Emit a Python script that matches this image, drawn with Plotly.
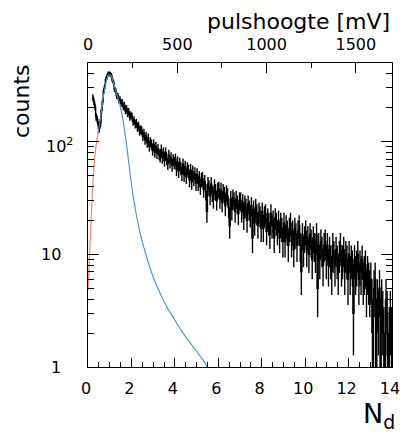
import numpy as np
import plotly.graph_objects as go

# ---------------- data ----------------
bin_width = 0.05          # N_d per histogram bin
first_bin_edge = 0.20     # first filled bin starts here

counts = [
    # 0.20 - 0.95
    248, 226, 204, 166, 158, 141, 132, 147, 190, 226, 281, 309, 356, 377, 398, 402,
    # 1.00 - 1.95
    396, 388, 352, 336, 293, 284, 255, 256, 233, 238, 219, 224, 204, 211, 189, 197, 178, 185, 166, 172,
    # 2.00 - 2.95
    168, 151, 155, 143, 147, 134, 139, 124, 128, 126, 112, 119, 104, 112, 98, 108, 91, 99, 95, 84,
    # 3.00 - 3.95
    95, 81, 90, 79, 86, 77, 74, 85, 72, 80, 68, 80, 70, 64, 76, 66, 72, 62, 69, 65,
    # 4.00 - 4.95
    70, 57, 66, 55, 64, 58, 52, 63, 51, 60, 49, 58, 55, 46, 56, 44, 54, 47, 52, 43,
    # 5.00 - 5.95
    51, 43, 48, 40, 46, 47, 38, 44, 36, 24, 42, 39, 33, 42, 35, 31, 40, 36, 30, 37,
    # 6.00 - 6.95
    38, 31, 37, 29, 36, 34, 27, 35, 33, 26, 18, 31, 25, 32, 30, 24, 31, 28, 23, 30,
    # 7.00 - 7.95
    30, 24, 29, 21, 28, 26, 20, 28, 25, 22, 27, 14, 25, 19, 26, 23, 18, 24, 22, 17,
    # 8.00 - 8.95
    24, 17, 22, 23, 16, 21, 19, 15, 23, 18, 20, 14, 21, 19, 16, 20, 14, 19, 17, 13,
    # 9.00 - 9.95
    19, 13, 18, 16, 12, 17, 19, 13, 16, 11, 17, 15, 12, 16, 18, 12, 7, 15, 11, 14,
    # 10.00 - 10.95
    16, 11, 14, 10, 15, 13, 9, 14, 12, 10, 15, 5, 12, 9, 13, 11, 8, 12, 13, 9,
    # 11.00 - 11.95
    12, 8, 11, 9, 7, 12, 10, 8, 11, 9, 7, 10, 12, 8, 9, 11, 7, 10, 9, 6,
    # 12.00 - 12.95
    10, 7, 9, 8, 3, 9, 7, 8, 10, 6, 8, 7, 9, 6, 7, 8, 5, 7, 6, 5,
    # 13.00 - 13.95
    6, 4, 1, 5, 6, 1, 4, 3, 5, 1, 4, 3, 2, 1, 4, 3, 1, 2, 3, 2,
]

# fit component (single-photon peak), blue
blue_nd = [0.45, 0.55, 0.65, 0.75, 0.85, 0.95, 1.05, 1.15, 1.25, 1.35, 1.45, 1.55,
           1.65, 1.75, 1.85, 1.95, 2.05, 2.2, 2.4, 2.6, 2.8, 3.0, 3.3, 3.6, 3.9,
           4.2, 4.5, 4.8, 5.1, 5.3, 5.5]
blue_counts = [118, 150, 210, 280, 350, 392, 385, 345, 295, 255, 220, 180,
               140, 103, 72, 50, 36, 24, 15.5, 11, 8.2, 6.3, 4.6, 3.5, 2.8,
               2.25, 1.85, 1.55, 1.3, 1.15, 1.0]

# low-end fit, red
red_nd = [0.0, 0.05, 0.1, 0.15, 0.2, 0.25, 0.3, 0.35, 0.4, 0.45, 0.5, 0.55, 0.6]
red_counts = [4.8, 8, 13, 22, 34, 50, 68, 85, 100, 115, 128, 150, 180]

# axes
x_range = [0, 14]
mv_per_nd = 121.6
top_range_mv = [0, x_range[1] * mv_per_nd]
y_log_range = [0, 2.698]
y_major = [1, 10, 100]
y_major_text = ["1", "10", "10<sup>2</sup>"]
y_minor = [2, 3, 4, 5, 6, 7, 8, 9, 20, 30, 40, 50, 60, 70, 80, 90, 200, 300, 400, 500]

# ---------------- figure ----------------
counts_arr = np.array(counts, dtype=float)
centers = first_bin_edge + bin_width * (np.arange(len(counts_arr)) + 0.5)
errors = np.sqrt(counts_arr)

FONT = "DejaVu Sans"
fig = go.Figure()

fig.add_trace(go.Scatter(
    x=red_nd, y=red_counts, mode="lines",
    line=dict(color="#f2876e", width=1.2, shape="spline"), hoverinfo="skip"))

fig.add_trace(go.Scatter(
    x=centers, y=counts_arr, mode="lines",
    line=dict(color="black", width=1.4, shape="hvh"),
    error_y=dict(type="data", array=errors, visible=True, thickness=1.4, width=0, color="black"),
    hoverinfo="skip"))

fig.add_trace(go.Scatter(
    x=blue_nd, y=blue_counts, mode="lines",
    line=dict(color="#3f8fd9", width=1.1, shape="spline"), hoverinfo="skip"))

# invisible trace that activates the top (mV) axis
fig.add_trace(go.Scatter(
    x=top_range_mv, y=[y_major[0], y_major[0]], xaxis="x2", yaxis="y",
    mode="markers", marker=dict(opacity=0), hoverinfo="skip"))

fig.update_layout(
    width=400, height=432, autosize=False,
    margin=dict(l=88, r=8, t=63, b=65, pad=0, autoexpand=False),
    paper_bgcolor="white", plot_bgcolor="white",
    showlegend=False,
    font=dict(family=FONT, size=16, color="black"),
    xaxis=dict(
        range=x_range, tickmode="linear", tick0=0, dtick=2,
        ticks="inside", ticklen=9, tickwidth=1, tickcolor="black",
        showline=True, linecolor="black", linewidth=1, mirror=False,
        showgrid=False, zeroline=False, ticklabelstandoff=7,
        ticklabelshift=-2,
        ticklabeloverflow="allow", automargin=False,
        tickfont=dict(family=FONT, size=16, color="black"),
        minor=dict(ticks="inside", ticklen=5, tickwidth=1, tickcolor="black",
                   tick0=0, dtick=0.5, showgrid=False),
    ),
    xaxis2=dict(
        range=top_range_mv, overlaying="x", side="top", anchor="y",
        tickmode="linear", tick0=0, dtick=500,
        ticks="inside", ticklen=10, tickwidth=1, tickcolor="black",
        showline=True, linecolor="black", linewidth=1,
        showgrid=False, zeroline=False, ticklabelstandoff=6,
        ticklabeloverflow="allow", automargin=False,
        tickfont=dict(family=FONT, size=16, color="black"),
        minor=dict(ticks="inside", ticklen=5, tickwidth=1, tickcolor="black",
                   tick0=0, dtick=250, showgrid=False),
    ),
    yaxis=dict(
        type="log", range=y_log_range, automargin=False,
        tickmode="array", tickvals=y_major, showticklabels=False,
        ticks="inside", ticklen=11, tickwidth=1, tickcolor="black",
        showline=True, linecolor="black", linewidth=1, mirror="ticks",
        showgrid=False, zeroline=False,
        minor=dict(tickmode="array", tickvals=y_minor, ticks="inside",
                   ticklen=6, tickwidth=1, tickcolor="black", showgrid=False),
    ),
)

annotations = []
# y tick labels
for val, txt in zip(y_major, y_major_text):
    right_px = 75 if "sup" in txt else 63
    annotations.append(dict(
        x=(right_px - 88) / 304, xref="paper", xanchor="right",
        y=np.log10(val), yref="y", yanchor="middle",
        yshift=-4 if "sup" in txt else 0,
        text=txt, showarrow=False, font=dict(family=FONT, size=16, color="black")))

# axis titles
annotations.append(dict(
    x=(21 - 88) / 304, xref="paper", xanchor="center",
    y=(367 - 101) / 304, yref="paper", yanchor="middle",
    text="counts", textangle=-90, showarrow=False,
    font=dict(family=FONT, size=22, color="black")))
annotations.append(dict(
    x=1.0, xref="paper", xanchor="right",
    y=(367 - 21) / 304, yref="paper", yanchor="middle",
    text="pulshoogte [mV]", showarrow=False,
    font=dict(family=FONT, size=22, color="black")))
annotations.append(dict(
    x=(397 - 88) / 304, xref="paper", xanchor="right",
    y=(367 - 415) / 304, yref="paper", yanchor="middle",
    text="N<sub>d</sub>", showarrow=False,
    font=dict(family=FONT, size=27, color="black")))

fig.update_layout(annotations=annotations)

fig.write_html("out.html", config={"displayModeBar": False},
               post_script="document.body.style.margin='0';")
